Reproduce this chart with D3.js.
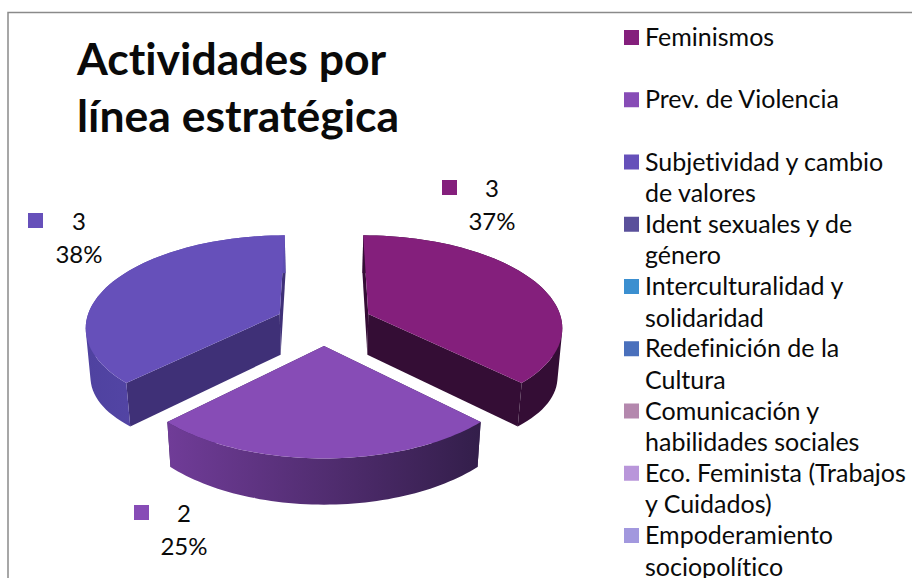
<!DOCTYPE html>
<html>
  <head>
    <meta charset="utf-8">
    <script src="https://cdn.jsdelivr.net/npm/d3@7"></script>
    <style>
      body { margin: 0; background: #fff; }
      text { font-family: Lato, "Open Sans", sans-serif; fill: #0a0a0a; font-variant-ligatures: none; }
    </style>
  </head>
  <body>
    <script type="text/javascript">
    var titleLines = ["Actividades por", "línea estratégica"];
    var categories = [
      ["Feminismos"],
      ["Prev. de Violencia"],
      ["Subjetividad y cambio", "de valores"],
      ["Ident sexuales y de", "género"],
      ["Interculturalidad y", "solidaridad"],
      ["Redefinición de la", "Cultura"],
      ["Comunicación y", "habilidades sociales"],
      ["Eco. Feminista (Trabajos", "y Cuidados)"],
      ["Empoderamiento", "sociopolítico"]
    ];
    var values = [3, 2, 3, 0, 0, 0, 0, 0, 0];
    var percentLabels = ["37%", "25%", "38%", "", "", "", "", "", ""];
    var colors = ["#841f7c", "#874cb6", "#6650ba", "#5a509b", "#3b8fd0", "#4a70bc", "#b488ae", "#b996da", "#a298de"];
    var wallColors = ["#340d35", "#3a2058", "#3f3077"];
    var rimStops = [["#340d35", "#340d35"], ["#703c98", "#331e4a"], ["#4f42a0", "#5e4db2"]];
    // where each data label sits: swatch corner, text centre
    var labelSpots = [[442, 180, 492], [134, 505, 184], [28, 213, 79]];

    var width = 912, height = 578;
    var explode = 0.25, persp = 0.13, depth = 41, shrink = 0.98;

    var svg = d3.select("body").append("svg")
      .attr("width", width)
      .attr("height", height)
      .style("display", "block");
    var defs = svg.append("defs");

    // chart border (top and left only are in the frame)
    svg.append("path")
      .attr("d", "M8,578V12.5H912")
      .attr("fill", "none")
      .attr("stroke", "#8a8a8a")
      .attr("stroke-width", 1.5);

    svg.selectAll(".title")
      .data(titleLines)
      .enter()
      .append("text")
      .attr("class", "title")
      .attr("x", 77)
      .attr("y", function(d, i) { return 74.5 + i * 57; })
      .attr("font-size", 44.5)
      .attr("font-weight", 700)
      .text(function(d) { return d; });

    // disc coordinates to pixels
    var xScale = d3.scaleLinear().domain([-1, 1]).range([324 - 194, 324 + 194]);
    var yScale = d3.scaleLinear().domain([-1, 1]).range([322.6 - 91, 322.6 + 91]);

    function project(p, low, extra) {
      var s = 1 / (1 - persp * p[1]);
      var f = low ? shrink : 1;
      return [xScale(p[0] * s * f), yScale(p[1] * s * f) + (low ? depth * s + (extra || 0) : 0)];
    }

    var pie = d3.pie().sort(null).value(function(d) { return d; });
    var arcs = pie(values);
    var line = d3.line();

    function slicePoints(a) {
      var mid = (a.startAngle + a.endAngle) / 2;
      var ox = Math.sin(mid) * explode, oy = -Math.cos(mid) * explode;
      var steps = d3.range(0, 61).map(function(i) {
        var t = a.startAngle + (a.endAngle - a.startAngle) * i / 60;
        return [ox + Math.sin(t), oy - Math.cos(t)];
      });
      return { apex: [ox, oy], rim: steps };
    }

    function drawSlice(i) {
      var g = slicePoints(arcs[i]);
      var first = g.rim[0], last = g.rim[g.rim.length - 1];
      var top = function(p) { return project(p, false); };
      var low = function(p) { return project(p, true); };
      // the side slices bulge a little more along the rim
      var bulge = i == 1 ? 0 : 10;
      var topRim = g.rim.map(top);
      var lowRim = g.rim.map(function(p, k) {
        return project(p, true, bulge * Math.sin(Math.PI * k / 60));
      });

      var gradId = "rim" + i;
      var grad = defs.append("linearGradient")
        .attr("id", gradId)
        .attr("gradientUnits", "userSpaceOnUse")
        .attr("x1", d3.min(topRim, function(p) { return p[0]; }))
        .attr("x2", d3.max(topRim, function(p) { return p[0]; }))
        .attr("y1", 0).attr("y2", 0);
      grad.append("stop").attr("offset", 0).attr("stop-color", rimStops[i][0]);
      grad.append("stop").attr("offset", 1).attr("stop-color", rimStops[i][1]);

      // cut walls
      [first, last].forEach(function(edge) {
        svg.append("path")
          .attr("d", line([top(g.apex), top(edge), low(edge), low(g.apex)]) + "Z")
          .attr("fill", wallColors[i]);
      });
      // outer rim: one quad per step, all wound the same way so none cancel
      var rimPath = "";
      d3.range(0, 60).forEach(function(k) {
        var quad = [topRim[k], topRim[k + 1], lowRim[k + 1], lowRim[k]];
        if (d3.polygonArea(quad) < 0) quad.reverse();
        rimPath += line(quad) + "Z";
      });
      svg.append("path")
        .attr("d", rimPath)
        .attr("fill", "url(#" + gradId + ")");
      // top face
      svg.append("path")
        .attr("d", line([g.apex].concat(g.rim).map(top)) + "Z")
        .attr("fill", colors[i]);
    }
    // back slices first
    [0, 2, 1].forEach(drawSlice);

    // data labels
    arcs.forEach(function(a, i) {
      if (!a.value) return;
      var spot = labelSpots[i];
      svg.append("rect")
        .attr("x", spot[0]).attr("y", spot[1])
        .attr("width", 15).attr("height", 15)
        .attr("fill", colors[i]);
      svg.append("text")
        .attr("x", spot[2]).attr("y", spot[1] + 17)
        .attr("text-anchor", "middle")
        .attr("font-size", 24)
        .text(a.value);
      svg.append("text")
        .attr("x", spot[2]).attr("y", spot[1] + 50)
        .attr("text-anchor", "middle")
        .attr("font-size", 24)
        .text(percentLabels[i]);
    });

    // legend
    var legend = svg.selectAll(".legend")
      .data(categories)
      .enter()
      .append("g")
      .attr("class", "legend")
      .attr("transform", function(d, i) { return "translate(624," + (30 + i * 62.25) + ")"; });
    legend.append("rect")
      .attr("width", 15).attr("height", 15)
      .attr("fill", function(d, i) { return colors[i]; });
    legend.selectAll("text")
      .data(function(d) { return d; })
      .enter()
      .append("text")
      .attr("x", 21)
      .attr("y", function(d, i) { return 16 + i * 31.5; })
      .attr("font-size", 25)
      .text(function(d) { return d; });
    </script>
  </body>
</html>
